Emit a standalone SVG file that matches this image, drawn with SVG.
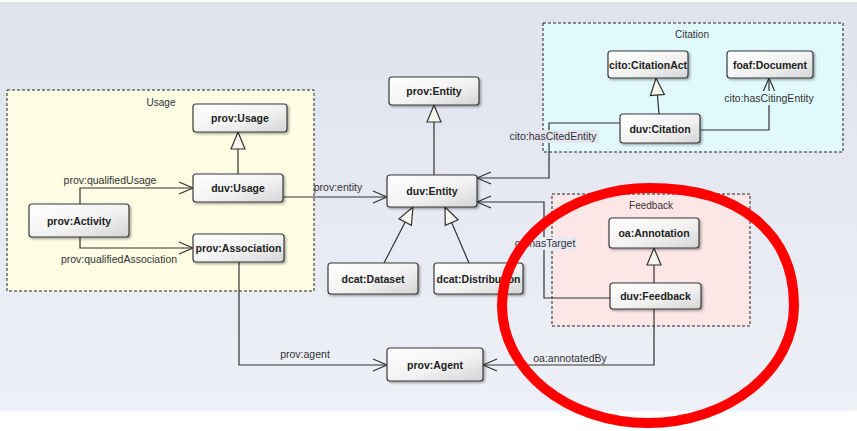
<svg xmlns="http://www.w3.org/2000/svg" width="857" height="431" viewBox="0 0 857 431">
<defs>
<linearGradient id="bg" x1="0" y1="0" x2="0" y2="1">
<stop offset="0" stop-color="#dfe3ee"/>
<stop offset="1" stop-color="#eef0f7"/>
</linearGradient>
<linearGradient id="ng" x1="0" y1="0" x2="1" y2="1">
<stop offset="0" stop-color="#ffffff"/>
<stop offset="0.55" stop-color="#f2f2f2"/>
<stop offset="1" stop-color="#d4d4d4"/>
</linearGradient>
<filter id="sh" x="-10%" y="-10%" width="130%" height="140%">
<feDropShadow dx="1.5" dy="1.5" stdDeviation="0.8" flood-color="#000" flood-opacity="0.35"/>
</filter>
<marker id="open" markerUnits="userSpaceOnUse" markerWidth="16" markerHeight="14" refX="14" refY="7" orient="auto" overflow="visible">
<path d="M0,1 L14,7 L0,13" fill="none" stroke="#333" stroke-width="1.2"/>
</marker>
<marker id="gen" markerUnits="userSpaceOnUse" markerWidth="19" markerHeight="16" refX="17" refY="7" orient="auto" overflow="visible">
<path d="M0,0 L17,7 L0,14 Z" fill="#f6f5ee" stroke="#333" stroke-width="1.2"/>
</marker>
</defs>
<style>
.node rect{fill:url(#ng);stroke:#3a3a3a;stroke-width:1.2;filter:url(#sh)}
.node text{font-family:"Liberation Sans",Arial,sans-serif;font-size:10.5px;font-weight:bold;fill:#222;text-anchor:middle;dominant-baseline:central}
.pkg rect{stroke:#222;stroke-width:1;stroke-dasharray:3,2}
.pkg text{font-family:"Liberation Sans",Arial,sans-serif;font-size:10px;fill:#333;text-anchor:middle;dominant-baseline:central}
.edge{fill:none;stroke:#333;stroke-width:1.2}
.lbl{font-family:"Liberation Sans",Arial,sans-serif;font-size:10.5px;fill:#333;text-anchor:middle;dominant-baseline:central}
</style>
<rect x="0" y="0" width="857" height="431" fill="#ffffff"/>
<rect x="0" y="2" width="857" height="409" fill="url(#bg)"/>

<g id="pkg-usage" class="pkg">
<rect x="7" y="90" width="307" height="201" fill="#fdfde4"/>
<text x="161" y="102.5">Usage</text>
</g>
<g id="pkg-citation" class="pkg">
<rect x="543" y="23" width="300" height="129" fill="#e0f9fd"/>
<text x="692" y="34">Citation</text>
</g>
<g id="pkg-feedback" class="pkg">
<rect x="552" y="194" width="198" height="132" fill="#fce6e6"/>
<text x="651" y="205">Feedback</text>
</g>

<g id="connectors">
<path class="edge" d="M80,204 V188 H193" marker-end="url(#open)"/>
<path class="edge" d="M80,237 V248 H193" marker-end="url(#open)"/>
<path class="edge" d="M283,197 H387" marker-end="url(#open)"/>
<path class="edge" d="M239,262 V365 H387" marker-end="url(#open)"/>
<path class="edge" d="M238,174 V132" marker-end="url(#gen)"/>
<path class="edge" d="M434,175 V105" marker-end="url(#gen)"/>
<path class="edge" d="M384,263 L413,207" marker-end="url(#gen)"/>
<path class="edge" d="M469,263 L445,207" marker-end="url(#gen)"/>
<path class="edge" d="M620,123 H549 V178 H477" marker-end="url(#open)"/>
<path class="edge" d="M610,298 H544 V202 H477" marker-end="url(#open)"/>
<path class="edge" d="M659,114 L656,78" marker-end="url(#gen)"/>
<path class="edge" d="M700,130 H769 V78" marker-end="url(#open)"/>
<path class="edge" d="M654,283 V248" marker-end="url(#gen)"/>
<path class="edge" d="M654,309 V365 H483" marker-end="url(#open)"/>
<text class="lbl" x="110" y="180">prov:qualifiedUsage</text>
<text class="lbl" x="119" y="259">prov:qualifiedAssociation</text>
<text class="lbl" x="338" y="187">prov:entity</text>
<text class="lbl" x="305" y="354">prov:agent</text>
<rect x="507" y="130" width="92" height="13" fill="#e3e6f0"/>
<text class="lbl" x="553" y="136">cito:hasCitedEntity</text>
<rect x="512" y="237" width="65" height="13" fill="#e7eaf3"/>
<text class="lbl" x="545" y="243">oa:hasTarget</text>
<rect x="722" y="91" width="94" height="14" fill="#e0f9fd"/>
<text class="lbl" x="769" y="98">cito:hasCitingEntity</text>
<text class="lbl" x="570" y="358">oa:annotatedBy</text>
</g>

<g id="prov-usage" class="node"><rect x="193" y="104" width="94" height="28" rx="3"/><text x="240" y="118">prov:Usage</text></g>
<g id="duv-usage" class="node"><rect x="193" y="174" width="90" height="28" rx="3"/><text x="238" y="188">duv:Usage</text></g>
<g id="prov-activity" class="node"><rect x="29" y="204" width="100" height="33" rx="3"/><text x="79" y="220.5">prov:Activity</text></g>
<g id="prov-association" class="node"><rect x="193" y="234" width="91" height="28" rx="3"/><text x="238.5" y="248">prov:Association</text></g>
<g id="prov-entity" class="node"><rect x="389" y="77" width="90" height="28" rx="3"/><text x="434" y="91">prov:Entity</text></g>
<g id="duv-entity" class="node"><rect x="387" y="175" width="90" height="32" rx="3"/><text x="432" y="191">duv:Entity</text></g>
<g id="dcat-dataset" class="node"><rect x="328" y="263" width="90" height="31" rx="3"/><text x="373" y="278.5">dcat:Dataset</text></g>
<g id="dcat-distribution" class="node"><rect x="434" y="263" width="89" height="31" rx="3"/><text x="478.5" y="278.5">dcat:Distribution</text></g>
<g id="prov-agent" class="node"><rect x="387" y="348" width="96" height="33" rx="3"/><text x="435" y="364.5">prov:Agent</text></g>
<g id="cito-citationact" class="node"><rect x="608" y="51" width="80" height="27" rx="3"/><text x="648" y="64.5">cito:CitationAct</text></g>
<g id="foaf-document" class="node"><rect x="727" y="51" width="86" height="27" rx="3"/><text x="770" y="64.5">foaf:Document</text></g>
<g id="duv-citation" class="node"><rect x="620" y="114" width="80" height="29" rx="3"/><text x="660" y="128.5">duv:Citation</text></g>
<g id="oa-annotation" class="node"><rect x="609" y="218" width="90" height="30" rx="3"/><text x="654" y="233">oa:Annotation</text></g>
<g id="duv-feedback" class="node"><rect x="610" y="283" width="91" height="26" rx="3"/><text x="655.5" y="296">duv:Feedback</text></g>

<g id="highlight">
<path d="M502,305.5 C502,240.6 568.3,188 650,188 C739.3,188 794,232.65 794,305.5 C794,370.4 728.6,423 648,423 C567.4,423 502,370.4 502,305.5 Z" fill="none" stroke="#ff0000" stroke-width="10"/>
</g>
</svg>
